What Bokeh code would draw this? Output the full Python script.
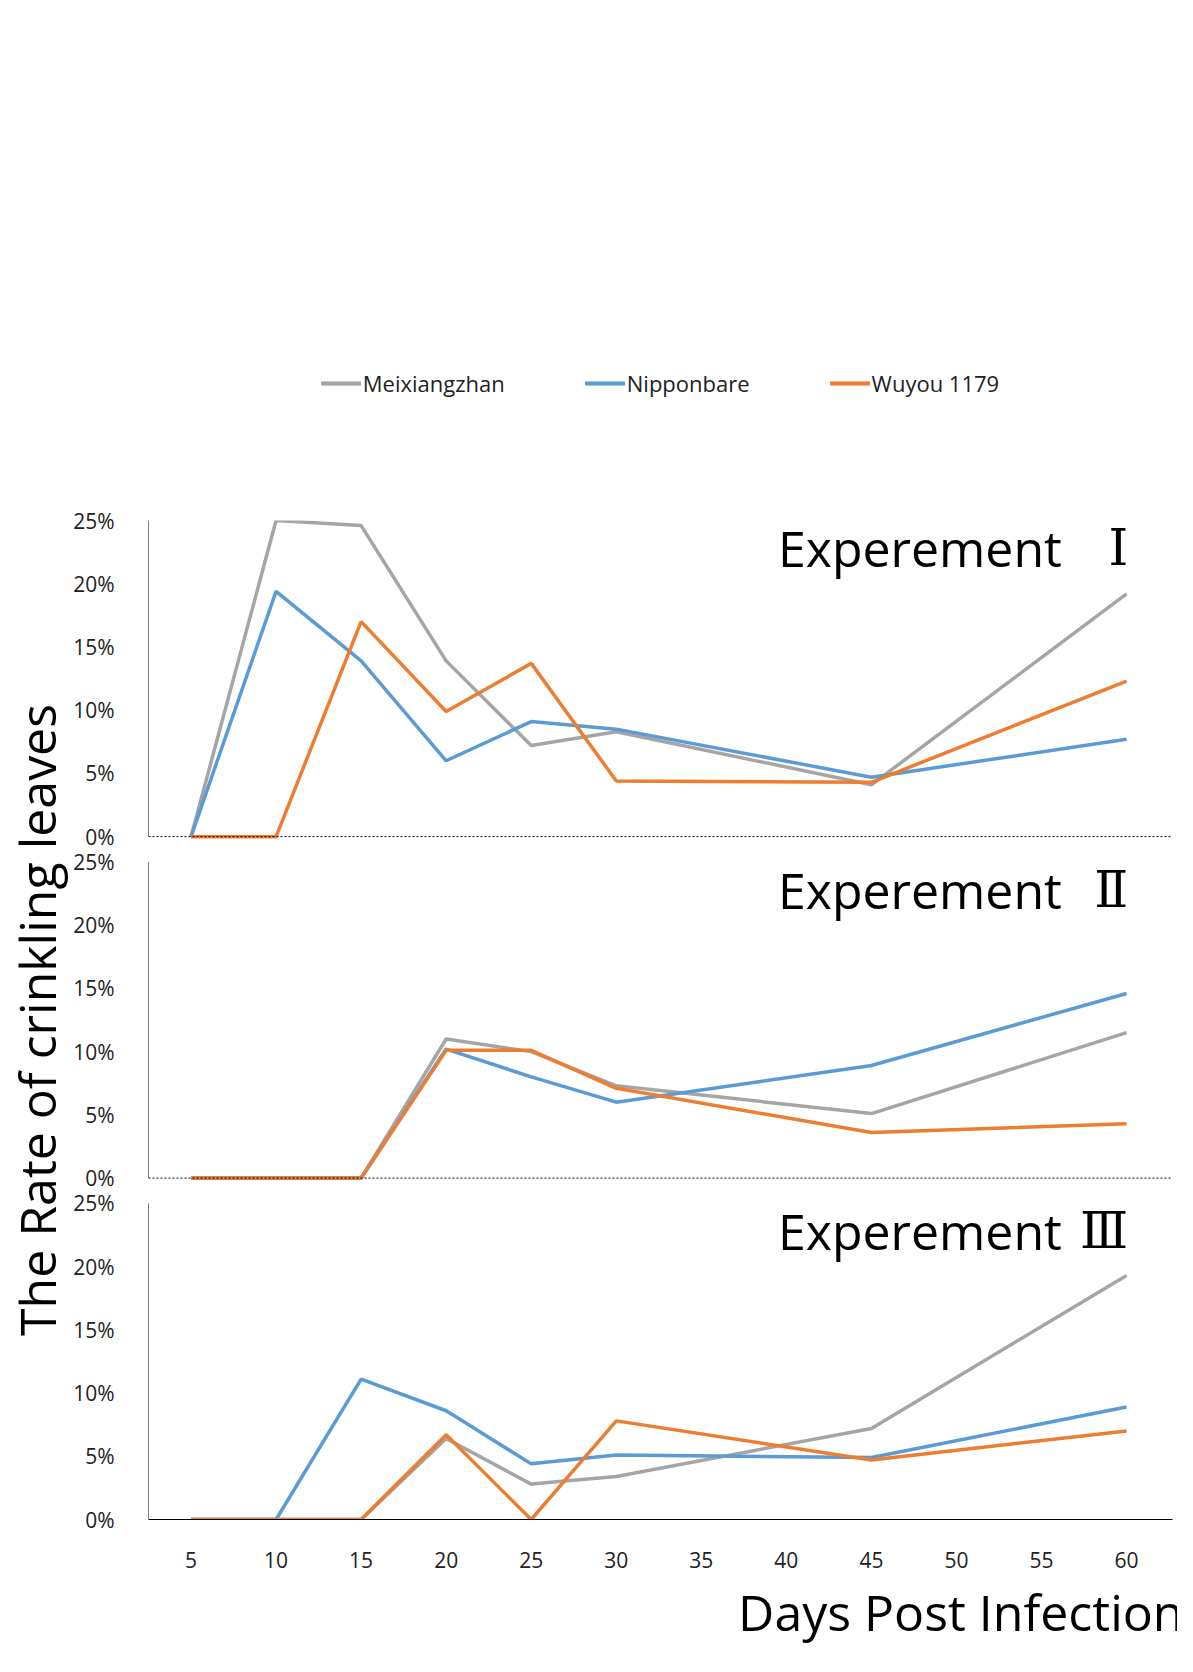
from bokeh.plotting import figure
from bokeh.models import Legend, LegendItem, FixedTicker, Label, Title
from bokeh.embed import file_html
from bokeh.resources import INLINE

days = [5, 10, 15, 20, 25, 30, 45, 60]
tick_days = [5, 10, 15, 20, 25, 30, 35, 40, 45, 50, 55, 60]
series = ["Meixiangzhan", "Nipponbare", "Wuyou 1179"]
colors = ["#A5A5A5", "#5B9BD5", "#ED7D31"]

exp1_mei = [0, 25.0, 24.6, 13.9, 7.2, 8.3, 4.1, 19.2]
exp1_nip = [0, 19.4, 13.9, 6.0, 9.1, 8.5, 4.7, 7.7]
exp1_wuy = [0, 0, 17.0, 9.9, 13.7, 4.4, 4.3, 12.3]
exp2_mei = [0, 0, 0, 11.0, 10.0, 7.3, 5.1, 11.5]
exp2_nip = [0, 0, 0, 10.2, 8.0, 6.0, 8.9, 14.6]
exp2_wuy = [0, 0, 0, 10.1, 10.1, 7.1, 3.6, 4.3]
exp3_mei = [0, 0, 0, 6.4, 2.8, 3.4, 7.2, 19.3]
exp3_nip = [0, 0, 11.1, 8.6, 4.4, 5.1, 4.9, 8.9]
exp3_wuy = [0, 0, 0, 6.7, 0, 7.8, 4.7, 7.0]
y_ticks = [0, 5, 10, 15, 20, 25]
titles = ["Ⅰ", "Ⅱ", "Ⅲ"]

panels = [(54, [exp1_mei, exp1_nip, exp1_wuy]),
          (27, [exp2_mei, exp2_nip, exp2_wuy]),
          (0, [exp3_mei, exp3_nip, exp3_wuy])]

X0, X1 = 2.5, 62.7
p = figure(width=1177, height=1650, x_range=(X0, X1), y_range=(0, 79),
           output_backend="svg", toolbar_location=None,
           min_border_left=110, min_border_right=5, min_border_bottom=115, min_border_top=95)
p.grid.visible = False
p.outline_line_color = None

renderers = {s: [] for s in series}
for off, vals in panels:
    for s, c, v in zip(series, colors, vals):
        r = p.line(days, [off + y for y in v], line_color=c, line_width=3.5)
        renderers[s].append(r)
    p.segment(x0=[X0], y0=[off], x1=[X0], y1=[off + 25], line_color="black", line_width=1)
    if off > 0:
        p.segment(x0=[X0], y0=[off], x1=[X1], y1=[off], line_color="black",
                  line_width=1, line_dash="2 2")

p.xaxis.ticker = FixedTicker(ticks=tick_days)
p.xaxis.major_tick_line_color = None
p.xaxis.minor_tick_line_color = None
p.xaxis.axis_line_color = "black"
p.xaxis.major_label_text_font_size = "21px"
p.xaxis.major_label_text_font = "Open Sans"
p.xaxis.major_label_text_color = "#222222"
p.xaxis.major_label_standoff = 26

yt, ov = [], {}
for off, _ in panels:
    for t in y_ticks:
        yt.append(off + t)
        ov[off + t] = f"{t}%"
p.yaxis.ticker = FixedTicker(ticks=yt)
p.yaxis.major_label_overrides = ov
p.yaxis.axis_line_color = None
p.yaxis.major_tick_line_color = None
p.yaxis.minor_tick_line_color = None
p.yaxis.major_label_text_font_size = "21px"
p.yaxis.major_label_text_font = "Open Sans"
p.yaxis.major_label_text_color = "#222222"
p.yaxis.major_label_standoff = 28

for (off, _), num in zip(panels, titles):
    p.add_layout(Label(x=56.2, y=off + 22.8, text="Experement", text_align="right",
                       text_baseline="middle", text_font="Open Sans",
                       text_font_size="50px", text_color="black"))
    p.add_layout(Label(x=60.1, y=off + 22.8, text=num, text_align="right",
                       text_baseline="middle", text_font="DejaVu Serif",
                       text_font_size="50px", text_color="black"))

p.add_layout(Title(text="The Rate of crinkling leaves", align="center", offset=141,
                   text_font="Open Sans", text_font_size="50px", text_font_style="normal",
                   text_color="black", standoff=0), "left")
p.add_layout(Title(text="Days Post Infection", align="right", offset=-11,
                   text_font="Open Sans", text_font_size="50px", text_font_style="normal",
                   text_color="black"), "below")

legend = Legend(items=[LegendItem(label=s, renderers=renderers[s]) for s in series],
                orientation="horizontal", location="center", spacing=80,
                label_text_font_size="22px", label_text_font="Open Sans",
                label_text_color="#222222", glyph_width=40, label_standoff=2,
                border_line_color=None, background_fill_alpha=0)
p.add_layout(legend, "above")

open("out.html", "w").write(file_html(p, INLINE))
